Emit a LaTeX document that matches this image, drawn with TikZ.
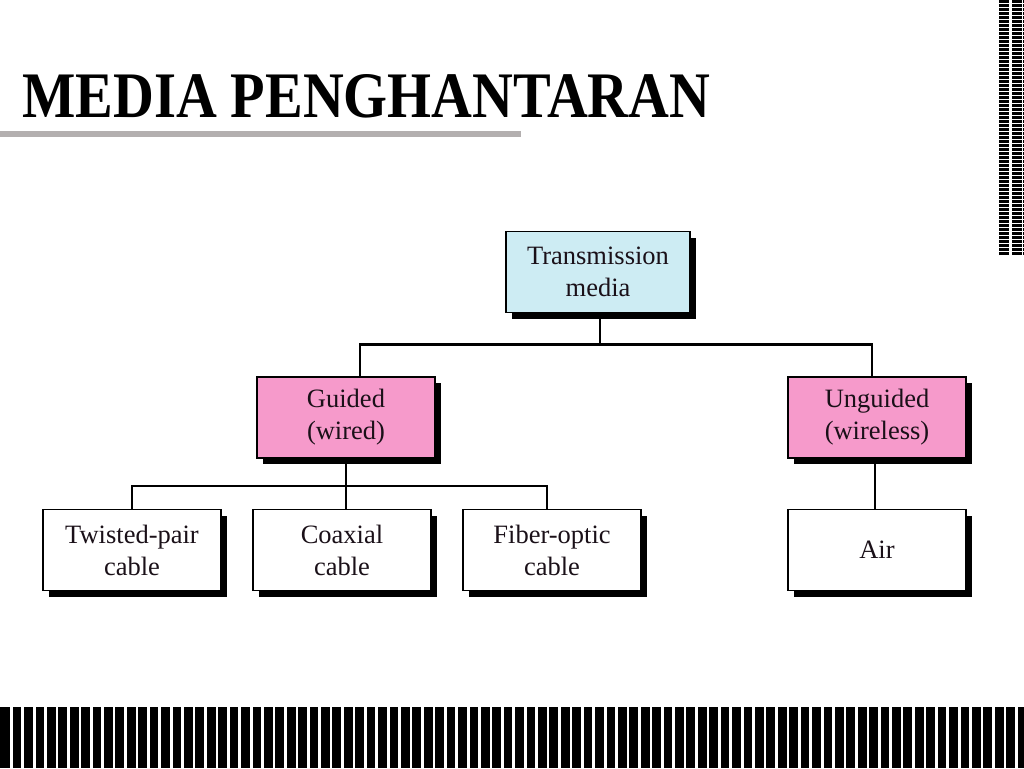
\documentclass[tikz,border=0pt]{standalone}
\usepackage{fontspec}
\setmainfont{Liberation Serif}
\usetikzlibrary{shadows}
\definecolor{boxblue}{HTML}{CDECF3}
\definecolor{boxpink}{HTML}{F69ACB}
\definecolor{rulegray}{HTML}{B3AFAF}
\definecolor{txt}{HTML}{1A1018}
\tikzset{
  box/.style={draw=black, line width=1.8pt, inner sep=0pt, align=center,
    minimum width=178pt, minimum height=81pt, text=txt,
    font=\fontsize{26.5}{32}\selectfont,
    drop shadow={shadow xshift=6pt, shadow yshift=-6pt, fill=black, opacity=1}},
  conn/.style={draw=black, line width=2.5pt},
}
\begin{document}
\begin{tikzpicture}[x=1pt,y=-1pt]
\useasboundingbox (0,0) rectangle (1024,768);
\fill[white] (0,0) rectangle (1024,768);
% title
\node[anchor=south west, inner sep=0pt] (title) at (22,118)
  {\resizebox{688pt}{43pt}{\bfseries MEDIA PENGHANTARAN}};
\fill[rulegray] (0,131) rectangle (521,137);
% top-right strip
\fill[black] (999,0) rectangle (1009,255);
\fill[black] (1012,0) rectangle (1022,255);
\fill[black] (1023,0) rectangle (1024,255);
\foreach \i in {0,...,63} { \fill[white] (998,{3+\i*4}) rectangle (1024,{4+\i*4}); }
% bottom bar
\fill[black] (0,707) rectangle (1024,768);
\foreach \i in {0,...,89} { \fill[white] ({10+\i*11.42},707) rectangle ({12.7+\i*11.42},768); }
% boxes
\node[box, fill=boxblue, minimum width=184pt] (tm) at (598,272) {Transmission\\media};
\node[box, fill=boxpink] (g) at (346,417.5) {Guided\\(wired)};
\node[box, fill=boxpink] (u) at (877,417.5) {Unguided\\(wireless)};
\node[box, fill=white] (tp) at (132,550) {Twisted-pair\\cable};
\node[box, fill=white] (cx) at (342,550) {Coaxial\\cable};
\node[box, fill=white] (fo) at (552,550) {Fiber-optic\\cable};
\node[box, fill=white] (air) at (877,550) {Air};
% connectors
\draw[conn] ([xshift=2pt]tm.south) -- ++(0,31) coordinate (j1);
\draw[conn] ([xshift=14pt]g.north) |- (j1) -| ([xshift=-5pt]u.north);
\draw[conn] (g.south) -- ++(0,27) coordinate (j2);
\draw[conn] (tp.north) |- (j2) -| ([xshift=-5pt]fo.north);
\draw[conn] (j2) -- ([xshift=4pt]cx.north);
\draw[conn] ([xshift=-2pt]u.south) -- ([xshift=-2pt]air.north);
\end{tikzpicture}
\end{document}
